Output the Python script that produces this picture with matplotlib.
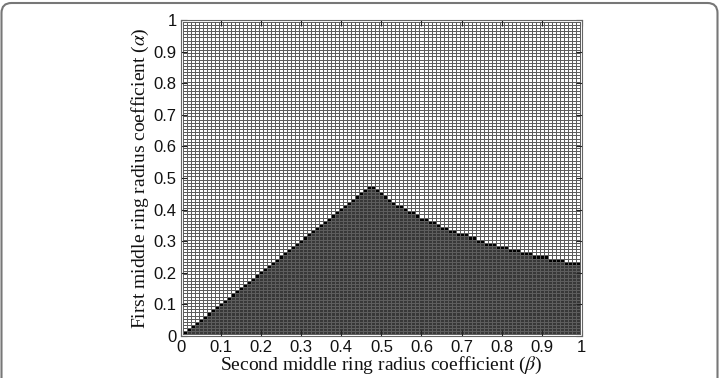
import numpy as np
import matplotlib.pyplot as plt
from matplotlib.colors import ListedColormap
from matplotlib.patches import FancyBboxPatch

# cell centres on both axes
beta = np.arange(1, 100) / 100
alpha = np.arange(1, 100) / 100

# number of dark cells in each beta column
n_dark = [1, 2, 3, 4, 5, 6, 7, 8, 9, 10,
          11, 12, 13, 14, 15, 16, 17, 18, 19, 20,
          21, 22, 23, 24, 25, 26, 27, 28, 29, 30,
          31, 32, 33, 34, 35, 36, 37, 38, 39, 40,
          41, 42, 43, 44, 45, 46, 47, 47, 46, 45,
          44, 43, 42, 41, 41, 40, 39, 39, 38, 37,
          37, 36, 36, 35, 34, 34, 33, 33, 32, 32,
          32, 31, 31, 30, 30, 29, 29, 29, 28, 28,
          28, 27, 27, 27, 26, 26, 26, 25, 25, 25,
          25, 24, 24, 24, 24, 23, 23, 23, 23]

ticks = np.arange(0, 11) / 10
tick_labels = ['0', '0.1', '0.2', '0.3', '0.4', '0.5', '0.6', '0.7', '0.8', '0.9', '1']

# 0 = feasible (white), 1 = region below boundary, 2 = boundary cell
rows = np.arange(1, len(alpha) + 1)[:, None]
n = np.array(n_dark)[None, :]
Z = np.where(rows < n, 1, np.where(rows == n, 2, 0))

plt.rcParams['font.family'] = 'Liberation Sans'
plt.rcParams['mathtext.fontset'] = 'stix'

fig = plt.figure(figsize=(7.21, 3.78), dpi=100)
ax = fig.add_axes([0.251, 0.111, 0.556, 0.836])

cmap = ListedColormap(['#ffffff', '#383838', '#000000'])
ax.pcolormesh(beta, alpha, Z, shading='nearest', cmap=cmap, vmin=0, vmax=2,
              edgecolors='#5e5e5e', linewidth=0.55)

ax.set_xlim(0, 1)
ax.set_ylim(0, 1)
ax.set_xticks(ticks)
ax.set_xticklabels(tick_labels)
ax.set_yticks(ticks)
ax.set_yticklabels(tick_labels)
ax.tick_params(direction='in', top=True, right=True, length=4, labelsize=12,
               colors='#222222', labelcolor='#111111')
ax.tick_params(axis='x', pad=3)
ax.tick_params(axis='y', pad=3)
for s in ax.spines.values():
    s.set_color('#666666')
    s.set_linewidth(0.8)

serif = 'Liberation Serif'
ax.set_xlabel(r'Second middle ring radius coefficient ($\beta$)', family=serif,
              fontsize=14, labelpad=0, color='#111111')
ax.set_ylabel(r'First middle ring radius coefficient ($\alpha$)', family=serif,
              fontsize=14, labelpad=2, color='#111111')

# rounded panel frame
frame = FancyBboxPatch((1.5, -30), 716, 405, boxstyle='round,pad=0,rounding_size=10',
                       transform=None, fill=False, edgecolor='#777777', linewidth=1.5)
fig.patches.append(frame)

fig.savefig('out.png', dpi=100)
